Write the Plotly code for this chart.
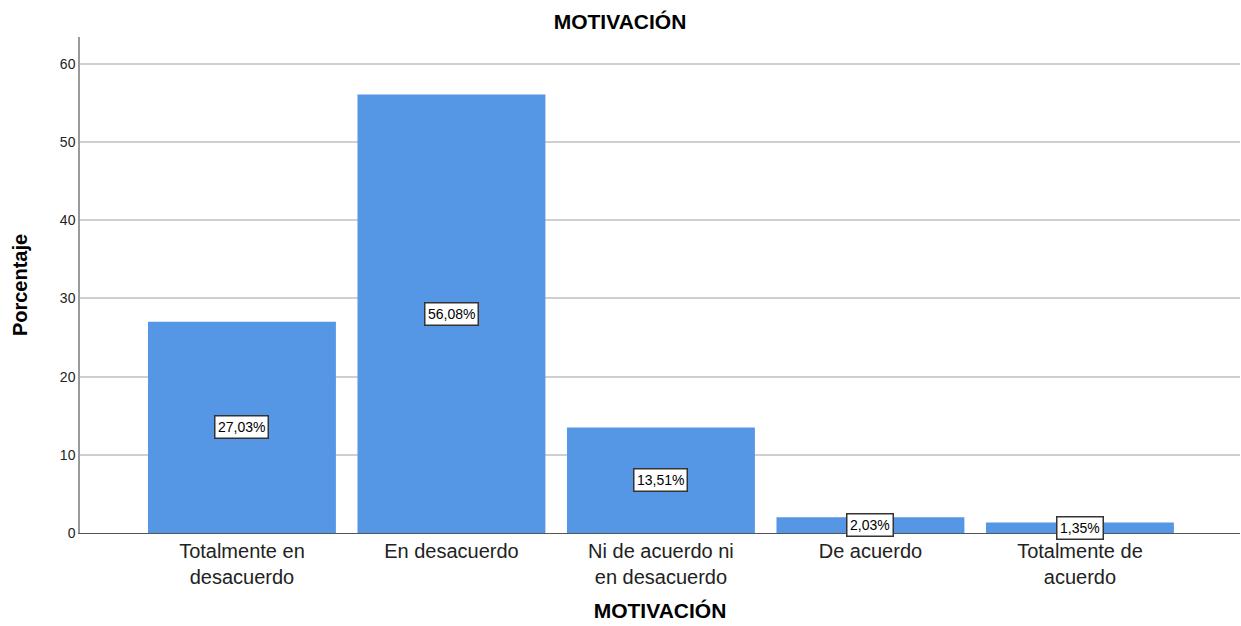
import plotly.graph_objects as go

categories = ["Totalmente en<br>desacuerdo", "En desacuerdo", "Ni de acuerdo ni<br>en desacuerdo",
              "De acuerdo", "Totalmente de<br>acuerdo"]
values = [27.03, 56.08, 13.51, 2.03, 1.35]
labels = ["27,03%", "56,08%", "13,51%", "2,03%", "1,35%"]
y_ticks = [0, 10, 20, 30, 40, 50, 60]

FONT = "Liberation Sans, Arial, sans-serif"

fig = go.Figure()
fig.add_trace(go.Bar(
    x=list(range(len(categories))), y=values, width=0.897,
    marker=dict(color="#5596E5", line=dict(width=0)),
    hoverinfo="skip",
))

for i, (v, t) in enumerate(zip(values, labels)):
    fig.add_annotation(x=i, y=v / 2, text=t, showarrow=False,
                       font=dict(family=FONT, size=14, color="#000"),
                       bgcolor="white", bordercolor="#333", borderwidth=1.5, borderpad=2.5)

fig.update_layout(
    width=1241, height=626,
    margin=dict(l=80, r=1, t=37, b=93, autoexpand=False),
    paper_bgcolor="white", plot_bgcolor="white",
    showlegend=False,
    font=dict(family=FONT, color="#000"),
    title=dict(text="<b>MOTIVACIÓN</b>", x=620 / 1241, xref="container", xanchor="center",
               y=1 - 22 / 626, yref="container", yanchor="middle", automargin=False,
               font=dict(size=21, color="#000")),
)

fig.update_xaxes(
    range=[-0.773, 4.764], tickvals=list(range(len(categories))), ticktext=categories,
    tickfont=dict(size=20, color="#222"), showgrid=False, zeroline=False,
    showline=True, linecolor="#555", linewidth=1, ticks="", automargin=False,
    title=dict(text="<b>MOTIVACIÓN</b>", font=dict(size=21, color="#000"), standoff=16),
)
fig.update_yaxes(
    range=[0, 63.45], tickvals=y_ticks, tickfont=dict(size=14, color="#222"),
    showgrid=True, gridcolor="#CFCFCF", gridwidth=1.5, zeroline=False,
    showline=True, linecolor="#9A9A9A", linewidth=1.5, ticks="", automargin=False,
    title=dict(text="<b>Porcentaje</b>", font=dict(size=20, color="#000"), standoff=27),
)

fig.write_html("out.html", config={"displayModeBar": False},
               post_script="document.body.style.margin='0';document.body.style.overflow='hidden';")
